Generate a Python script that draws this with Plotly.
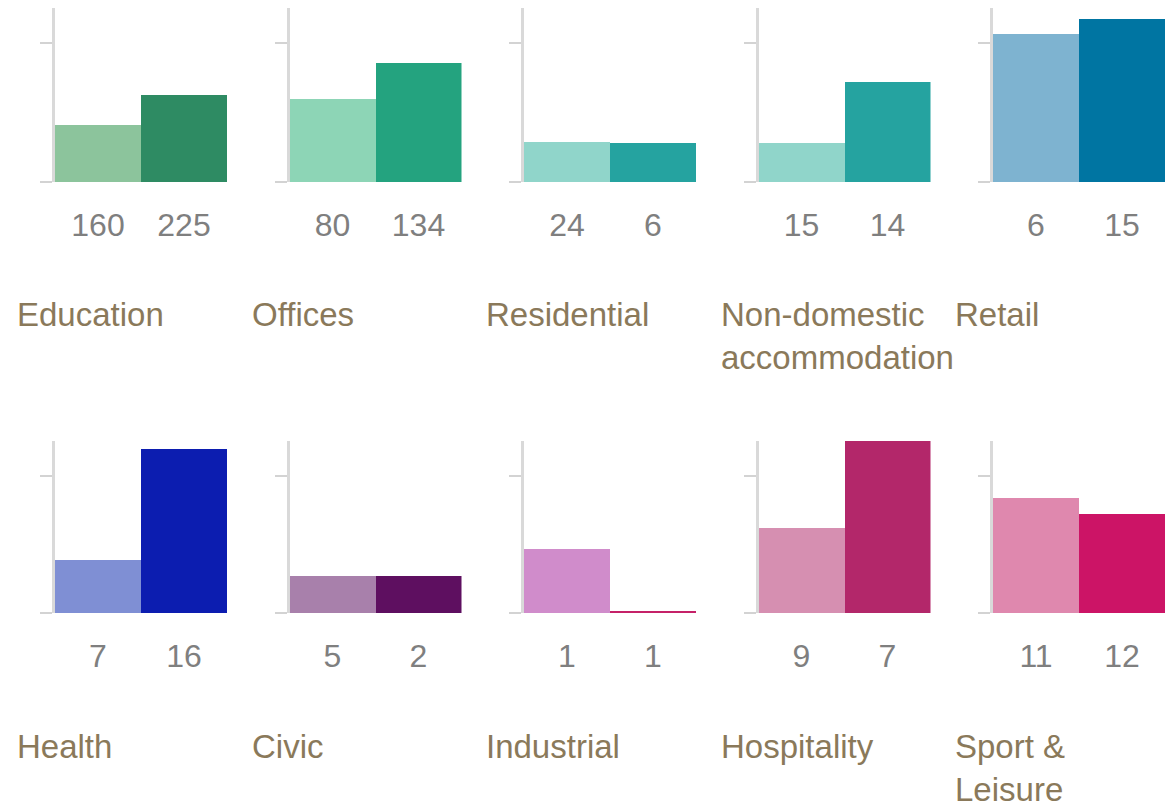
import plotly.graph_objects as go

# Building types, two bars each (lighter = first group, darker = second group)
categories = ["Education", "Offices", "Residential", "Non-domestic<br>accommodation", "Retail",
              "Health", "Civic", "Industrial", "Hospitality", "Sport &<br>Leisure"]
first_values = [0.41, 0.60, 0.29, 0.28, 1.07, 0.39, 0.27, 0.47, 0.62, 0.84]
second_values = [0.63, 0.86, 0.28, 0.72, 1.18, 1.20, 0.27, 0.015, 1.26, 0.72]
first_counts = ["160", "80", "24", "15", "6", "7", "5", "1", "9", "11"]
second_counts = ["225", "134", "6", "14", "15", "16", "2", "1", "7", "12"]
first_colors = ["#8CC49C", "#8DD5B6", "#90D5CA", "#90D5CA", "#7EB3D0",
                "#7F8FD4", "#A880AB", "#D08CCB", "#D68FB1", "#DF88AE"]
second_colors = ["#2E8B63", "#24A37F", "#25A3A0", "#25A3A0", "#0075A2",
                 "#0C1DB0", "#5E0F60", "#C52168", "#B3276A", "#CC1466"]

W, H = 1171, 803
FONT = "Arial, Liberation Sans, sans-serif"
label_color = "#8A795A"
tick_color = "#7F7F7F"

fig = go.Figure()

col_left0 = 55
col_step = 234.5
plot_w = 172
rows = [(8, 182), (441, 613)]      # (top, baseline) in pixels
label_top = [294, 726]

for i, cat in enumerate(categories):
    r, c = divmod(i, 5)
    n = i + 1
    xa = "x" if n == 1 else f"x{n}"
    ya = "y" if n == 1 else f"y{n}"
    left = col_left0 + col_step * c
    top, base = rows[r]
    fig.add_trace(go.Bar(
        x=[0, 1], y=[first_values[i], second_values[i]],
        marker=dict(color=[first_colors[i], second_colors[i]], line=dict(width=0)),
        width=1.0, xaxis=xa, yaxis=ya, showlegend=False, hoverinfo="skip",
    ))
    xkey = "xaxis" if n == 1 else f"xaxis{n}"
    ykey = "yaxis" if n == 1 else f"yaxis{n}"
    fig.layout[xkey] = dict(
        domain=[left / W, (left + plot_w) / W], anchor=ya,
        range=[-0.5, 1.5], tickvals=[0, 1],
        ticktext=[first_counts[i], second_counts[i]],
        showline=False, showgrid=False, zeroline=False, ticks="",
        ticklabelstandoff=21,
        tickfont=dict(family=FONT, size=32, color=tick_color), fixedrange=True,
    )
    fig.layout[ykey] = dict(
        domain=[1 - base / H, 1 - top / H], anchor=xa,
        range=[0, 1.256], tickvals=[0, 1], showticklabels=False,
        ticks="outside", ticklen=12, tickwidth=2, tickcolor="#D3D3D3",
        showline=True, linecolor="#D9D9D9", linewidth=3,
        showgrid=False, zeroline=False, fixedrange=True,
    )
    fig.add_annotation(
        text=cat, xref="paper", yref="paper",
        x=(left - 40) / W, y=1 - label_top[r] / H,
        xanchor="left", yanchor="top", align="left", showarrow=False,
        font=dict(family=FONT, size=33, color=label_color),
    )

fig.update_layout(
    width=W, height=H, margin=dict(l=0, r=0, t=0, b=0),
    paper_bgcolor="white", plot_bgcolor="white", bargap=0,
)

fig.write_html("out.html")
